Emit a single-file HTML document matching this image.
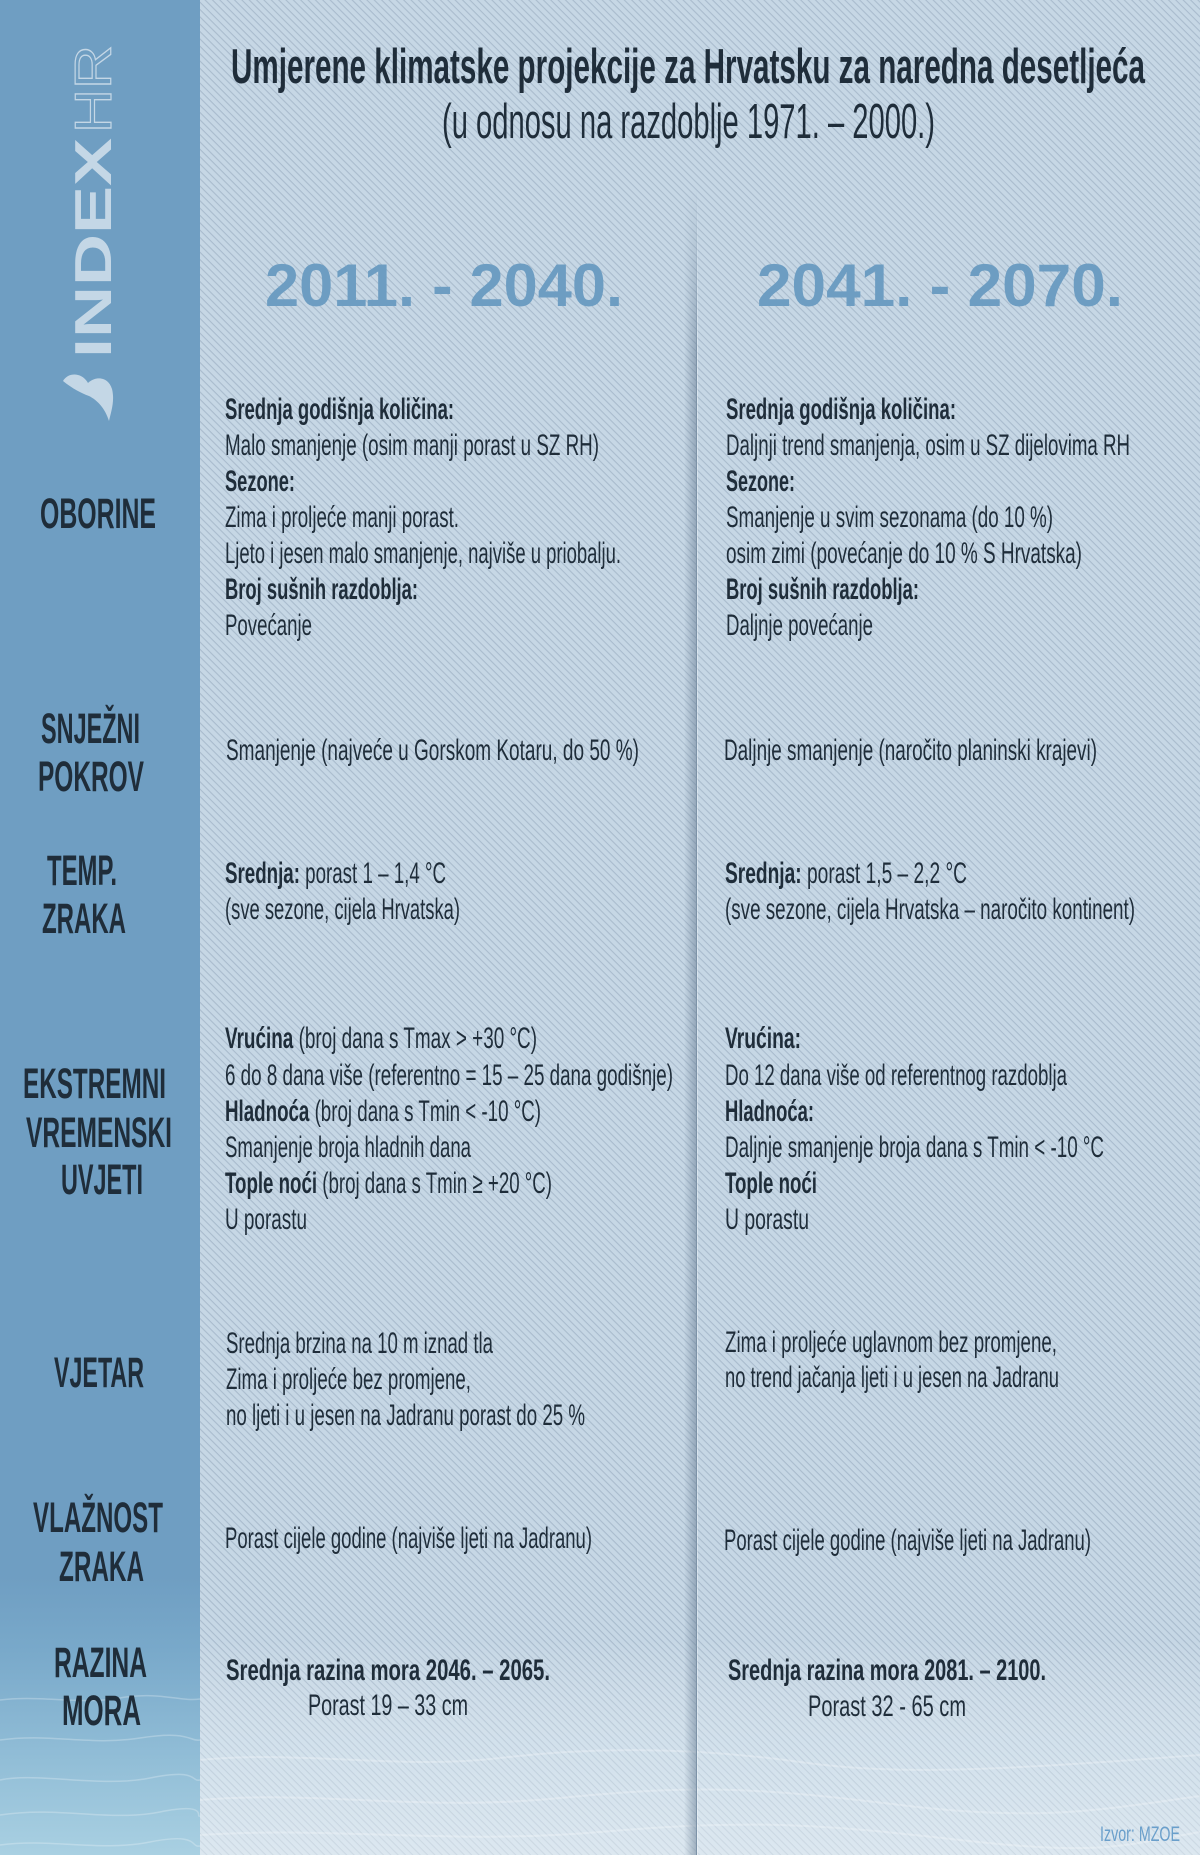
<!DOCTYPE html>
<html>
<head>
<meta charset="utf-8">
<style>
html,body{margin:0;padding:0;background:#c6d7e5;}
svg{display:block;}
text{font-family:"Liberation Sans", sans-serif;}
</style>
</head>
<body>
<svg xmlns="http://www.w3.org/2000/svg" width="1200" height="1855" viewBox="0 0 1200 1855">
<defs>
  <pattern id="st" patternUnits="userSpaceOnUse" width="20" height="5.2" patternTransform="rotate(45)">
    <rect x="0" y="0" width="20" height="1.1" fill="rgba(85,110,135,0.26)"/>
  </pattern>
  <linearGradient id="side" x1="0" y1="0" x2="0" y2="1">
    <stop offset="0" stop-color="#6f9ec2"/>
    <stop offset="0.85" stop-color="#6f9ec2"/>
    <stop offset="0.89" stop-color="#79a9ca"/>
    <stop offset="0.95" stop-color="#92bed7"/>
    <stop offset="1" stop-color="#a9d0e2"/>
  </linearGradient>
  <linearGradient id="mainbot" x1="0" y1="0" x2="0" y2="1">
    <stop offset="0" stop-color="#ffffff" stop-opacity="0"/>
    <stop offset="0.5" stop-color="#eaf4f9" stop-opacity="0.35"/>
    <stop offset="1" stop-color="#f2f8fb" stop-opacity="0.5"/>
  </linearGradient>
  <linearGradient id="shadow" x1="0" y1="0" x2="1" y2="0">
    <stop offset="0" stop-color="#5a7088" stop-opacity="0"/>
    <stop offset="1" stop-color="#5a7088" stop-opacity="0.45"/>
  </linearGradient>
  <linearGradient id="fadev" x1="0" y1="0" x2="0" y2="1">
    <stop offset="0" stop-color="#fff" stop-opacity="0"/>
    <stop offset="0.1" stop-color="#fff" stop-opacity="1"/>
    <stop offset="1" stop-color="#fff" stop-opacity="1"/>
  </linearGradient>
  <mask id="fm" maskUnits="userSpaceOnUse" x="680" y="190" width="30" height="1665">
    <rect x="680" y="190" width="30" height="1665" fill="url(#fadev)"/>
  </mask>
</defs>

<!-- main background -->
<rect x="0" y="0" width="1200" height="1855" fill="#c6d7e5"/>
<rect x="200" y="0" width="1000" height="1855" fill="url(#st)"/>
<rect x="200" y="1640" width="1000" height="215" fill="url(#mainbot)"/>
<g opacity="0.25" stroke="#ffffff" stroke-width="2" fill="none">
  <path d="M200 1760 C300 1750 400 1770 500 1758 S700 1748 800 1762 S1000 1770 1200 1755"/>
  <path d="M200 1800 C320 1790 420 1812 560 1798 S760 1788 900 1805 S1100 1810 1200 1796"/>
  <path d="M200 1835 C330 1826 450 1845 600 1832 S820 1824 960 1840 S1120 1846 1200 1832"/>
</g>

<!-- divider -->
<g mask="url(#fm)">
  <rect x="684" y="190" width="12" height="1665" fill="url(#shadow)"/>
  <rect x="696" y="190" width="1" height="1665" fill="#7d93a8"/>
  <rect x="697" y="190" width="1" height="1665" fill="rgba(255,255,255,0.35)"/>
</g>

<!-- sidebar -->
<rect x="0" y="0" width="200" height="1855" fill="url(#side)"/>
<g opacity="0.25" stroke="#ffffff" stroke-width="1.5" fill="none">
  <path d="M0 1700 C40 1695 80 1705 120 1698 S180 1702 200 1699"/>
  <path d="M0 1740 C50 1733 90 1746 140 1738 S190 1742 200 1740"/>
  <path d="M0 1780 C40 1772 100 1788 150 1778 S190 1782 200 1780"/>
  <path d="M0 1815 C60 1806 110 1822 160 1812 S195 1818 200 1816"/>
  <path d="M0 1845 C50 1838 100 1852 150 1842 S190 1848 200 1846"/>
</g>

<!-- logo -->
<g fill="#c4d7e6">
  <text transform="translate(111,358) rotate(-90)" x="0" y="0" font-size="52" font-weight="bold" textLength="220" lengthAdjust="spacingAndGlyphs">INDEX</text>
  <text transform="translate(111,133) rotate(-90)" x="0" y="0" font-size="52" font-weight="normal" textLength="88" lengthAdjust="spacingAndGlyphs" fill="none" stroke="#c4d7e6" stroke-width="1.2">HR</text>
  <path d="M63 381 C68 372 82 372 88 383 C95 376 108 376 112 389 C115 401 111 412 109 421 C105 408 97 400 89 396 C81 393 73 389 63 381 Z"/>
</g>

<!-- title -->
<g fill="#1f2d3a">
  <text x="231" y="83" font-size="49" font-weight="bold" textLength="914" lengthAdjust="spacingAndGlyphs">Umjerene klimatske projekcije za Hrvatsku za naredna desetljeća</text>
  <text x="442" y="138" font-size="49" textLength="493" lengthAdjust="spacingAndGlyphs">(u odnosu na razdoblje 1971. – 2000.)</text>
</g>

<!-- year headers -->
<g fill="#6d9dc2" font-weight="bold" font-size="60">
  <text x="265" y="306" textLength="358" lengthAdjust="spacingAndGlyphs">2011. - 2040.</text>
  <text x="757" y="306" textLength="366" lengthAdjust="spacingAndGlyphs">2041. - 2070.</text>
</g>

<!-- sidebar labels -->
<g fill="#1f2d3a" font-size="43" font-weight="bold">
  <text x="40" y="528" textLength="116" lengthAdjust="spacingAndGlyphs">OBORINE</text>
  <text x="41" y="743" textLength="99" lengthAdjust="spacingAndGlyphs">SNJEŽNI</text>
  <text x="38" y="791" textLength="106" lengthAdjust="spacingAndGlyphs">POKROV</text>
  <text x="47" y="885" textLength="70" lengthAdjust="spacingAndGlyphs">TEMP.</text>
  <text x="42" y="933" textLength="84" lengthAdjust="spacingAndGlyphs">ZRAKA</text>
  <text x="23" y="1098" textLength="143" lengthAdjust="spacingAndGlyphs">EKSTREMNI</text>
  <text x="26" y="1147" textLength="146" lengthAdjust="spacingAndGlyphs">VREMENSKI</text>
  <text x="61" y="1194" textLength="82" lengthAdjust="spacingAndGlyphs">UVJETI</text>
  <text x="54" y="1387" textLength="90" lengthAdjust="spacingAndGlyphs">VJETAR</text>
  <text x="33" y="1532" textLength="130" lengthAdjust="spacingAndGlyphs">VLAŽNOST</text>
  <text x="59" y="1581" textLength="85" lengthAdjust="spacingAndGlyphs">ZRAKA</text>
  <text x="54" y="1677" textLength="93" lengthAdjust="spacingAndGlyphs">RAZINA</text>
  <text x="62" y="1725" textLength="79" lengthAdjust="spacingAndGlyphs">MORA</text>
</g>

<!-- left column -->
<g fill="#1f2d3a" font-size="30">
  <text x="225" y="419" font-weight="bold" textLength="229" lengthAdjust="spacingAndGlyphs">Srednja godišnja količina:</text>
  <text x="225" y="455" textLength="374" lengthAdjust="spacingAndGlyphs">Malo smanjenje (osim manji porast u SZ RH)</text>
  <text x="225" y="491" font-weight="bold" textLength="70" lengthAdjust="spacingAndGlyphs">Sezone:</text>
  <text x="225" y="527" textLength="234" lengthAdjust="spacingAndGlyphs">Zima i proljeće manji porast.</text>
  <text x="225" y="563" textLength="396" lengthAdjust="spacingAndGlyphs">Ljeto i jesen malo smanjenje, najviše u priobalju.</text>
  <text x="225" y="599" font-weight="bold" textLength="193" lengthAdjust="spacingAndGlyphs">Broj sušnih razdoblja:</text>
  <text x="225" y="635" textLength="87" lengthAdjust="spacingAndGlyphs">Povećanje</text>

  <text x="226" y="760" textLength="413" lengthAdjust="spacingAndGlyphs">Smanjenje (najveće u Gorskom Kotaru, do 50 %)</text>

  <text x="225" y="883" textLength="221" lengthAdjust="spacingAndGlyphs"><tspan font-weight="bold">Srednja:</tspan> porast 1 – 1,4 °C</text>
  <text x="225" y="919" textLength="235" lengthAdjust="spacingAndGlyphs">(sve sezone, cijela Hrvatska)</text>

  <text x="225" y="1048" textLength="312" lengthAdjust="spacingAndGlyphs"><tspan font-weight="bold">Vrućina</tspan> (broj dana s Tmax &gt; +30 °C)</text>
  <text x="225" y="1085" textLength="448" lengthAdjust="spacingAndGlyphs">6 do 8 dana više (referentno = 15 – 25 dana godišnje)</text>
  <text x="225" y="1121" textLength="316" lengthAdjust="spacingAndGlyphs"><tspan font-weight="bold">Hladnoća</tspan> (broj dana s Tmin &lt; -10 °C)</text>
  <text x="225" y="1157" textLength="246" lengthAdjust="spacingAndGlyphs">Smanjenje broja hladnih dana</text>
  <text x="225" y="1193" textLength="327" lengthAdjust="spacingAndGlyphs"><tspan font-weight="bold">Tople noći</tspan> (broj dana s Tmin ≥ +20 °C)</text>
  <text x="225" y="1229" textLength="82" lengthAdjust="spacingAndGlyphs">U porastu</text>

  <text x="226" y="1353" textLength="267" lengthAdjust="spacingAndGlyphs">Srednja brzina na 10 m iznad tla</text>
  <text x="226" y="1389" textLength="245" lengthAdjust="spacingAndGlyphs">Zima i proljeće bez promjene,</text>
  <text x="226" y="1425" textLength="359" lengthAdjust="spacingAndGlyphs">no ljeti i u jesen na Jadranu porast do 25 %</text>

  <text x="225" y="1548" textLength="367" lengthAdjust="spacingAndGlyphs">Porast cijele godine (najviše ljeti na Jadranu)</text>

  <text x="226" y="1680" font-weight="bold" textLength="324" lengthAdjust="spacingAndGlyphs">Srednja razina mora 2046. – 2065.</text>
  <text x="308" y="1715" textLength="160" lengthAdjust="spacingAndGlyphs">Porast 19 – 33 cm</text>
</g>

<!-- right column -->
<g fill="#1f2d3a" font-size="30">
  <text x="726" y="419" font-weight="bold" textLength="230" lengthAdjust="spacingAndGlyphs">Srednja godišnja količina:</text>
  <text x="726" y="455" textLength="404" lengthAdjust="spacingAndGlyphs">Daljnji trend smanjenja, osim u SZ dijelovima RH</text>
  <text x="726" y="491" font-weight="bold" textLength="69" lengthAdjust="spacingAndGlyphs">Sezone:</text>
  <text x="726" y="527" textLength="327" lengthAdjust="spacingAndGlyphs">Smanjenje u svim sezonama (do 10 %)</text>
  <text x="726" y="563" textLength="356" lengthAdjust="spacingAndGlyphs">osim zimi (povećanje do 10 % S Hrvatska)</text>
  <text x="726" y="599" font-weight="bold" textLength="193" lengthAdjust="spacingAndGlyphs">Broj sušnih razdoblja:</text>
  <text x="726" y="635" textLength="147" lengthAdjust="spacingAndGlyphs">Daljnje povećanje</text>

  <text x="724" y="760" textLength="373" lengthAdjust="spacingAndGlyphs">Daljnje smanjenje (naročito planinski krajevi)</text>

  <text x="725" y="883" textLength="242" lengthAdjust="spacingAndGlyphs"><tspan font-weight="bold">Srednja:</tspan> porast 1,5 – 2,2 °C</text>
  <text x="725" y="919" textLength="410" lengthAdjust="spacingAndGlyphs">(sve sezone, cijela Hrvatska – naročito kontinent)</text>

  <text x="725" y="1048" font-weight="bold" textLength="76" lengthAdjust="spacingAndGlyphs">Vrućina:</text>
  <text x="725" y="1085" textLength="342" lengthAdjust="spacingAndGlyphs">Do 12 dana više od referentnog razdoblja</text>
  <text x="725" y="1121" font-weight="bold" textLength="89" lengthAdjust="spacingAndGlyphs">Hladnoća:</text>
  <text x="725" y="1157" textLength="379" lengthAdjust="spacingAndGlyphs">Daljnje smanjenje broja dana s Tmin &lt; -10 °C</text>
  <text x="725" y="1193" font-weight="bold" textLength="92" lengthAdjust="spacingAndGlyphs">Tople noći</text>
  <text x="725" y="1229" textLength="84" lengthAdjust="spacingAndGlyphs">U porastu</text>

  <text x="725" y="1352" textLength="332" lengthAdjust="spacingAndGlyphs">Zima i proljeće uglavnom bez promjene,</text>
  <text x="725" y="1387" textLength="334" lengthAdjust="spacingAndGlyphs">no trend jačanja ljeti i u jesen na Jadranu</text>

  <text x="724" y="1550" textLength="367" lengthAdjust="spacingAndGlyphs">Porast cijele godine (najviše ljeti na Jadranu)</text>

  <text x="728" y="1680" font-weight="bold" textLength="318" lengthAdjust="spacingAndGlyphs">Srednja razina mora 2081. – 2100.</text>
  <text x="808" y="1716" textLength="158" lengthAdjust="spacingAndGlyphs">Porast 32 - 65 cm</text>
</g>

<!-- source -->
<text x="1100" y="1841" font-size="21" fill="#6a9fcb" textLength="80" lengthAdjust="spacingAndGlyphs">Izvor: MZOE</text>
</svg>
</body>
</html>
